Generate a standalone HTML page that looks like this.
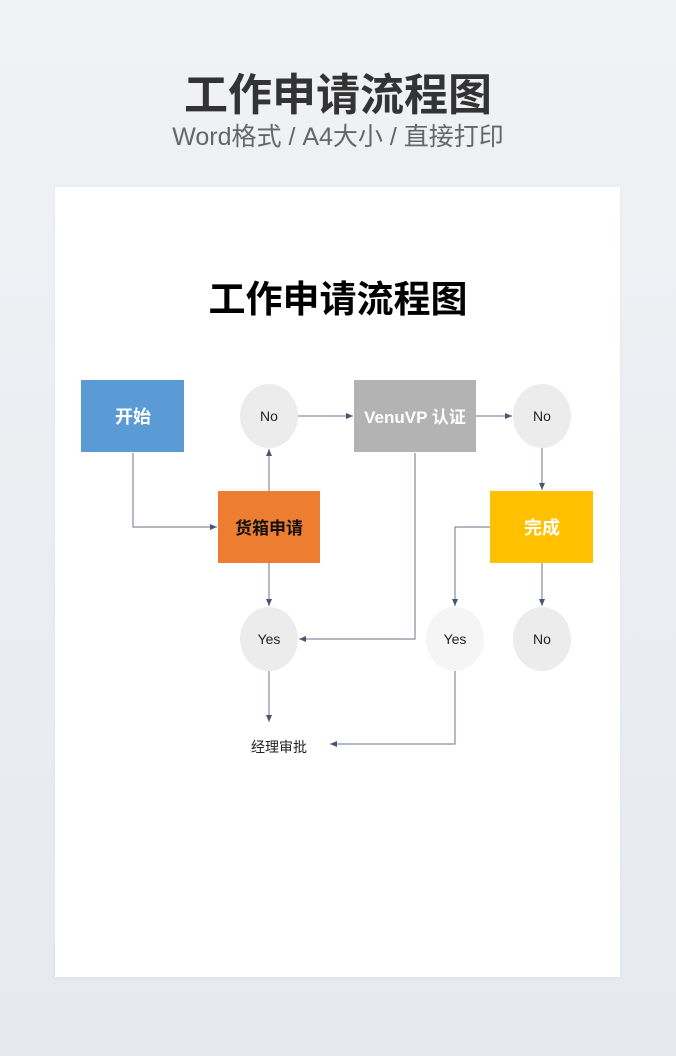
<!DOCTYPE html>
<html><head><meta charset="utf-8"><style>
body{margin:0;width:676px;height:1056px;background:linear-gradient(#f0f2f5,#e6e9ef);font-family:"Liberation Sans","Noto Sans CJK SC",sans-serif;position:relative;overflow:hidden}
.t{position:absolute;left:0;width:676px;text-align:center}
</style></head><body>
<div class="t" style="top:68px;font-size:44px;font-weight:bold;color:#333;line-height:56px">工作申请流程图</div>
<div class="t" style="top:121px;font-size:25px;color:#666;line-height:32px">Word格式 / A4大小 / 直接打印</div>
<div style="position:absolute;left:55px;top:187px;width:565px;height:790px;background:#fff;box-shadow:0 0 4px rgba(0,0,0,0.05)"></div>
<svg width="676" height="1056" style="position:absolute;left:0;top:0" font-family="Liberation Sans, Noto Sans CJK SC, sans-serif">
<defs><marker id="a" markerWidth="8" markerHeight="8" refX="7" refY="4" orient="auto" markerUnits="userSpaceOnUse"><path d="M0,1 L7,4 L0,7z" fill="#4a5570"/></marker></defs>
<text x="338" y="312" text-anchor="middle" font-size="37" font-weight="bold" fill="#000">工作申请流程图</text>
<g stroke="#6a7388" stroke-width="1" fill="none" marker-end="url(#a)">
<path d="M133 453V527H217"/>
<path d="M269 491V449"/>
<path d="M298 416H353"/>
<path d="M476 416H512"/>
<path d="M542 448V490"/>
<path d="M415 453V639H299"/>
<path d="M269 563V606"/>
<path d="M490 527H455V606"/>
<path d="M542 563V606"/>
<path d="M269 671V722"/>
<path d="M455 671V744H330"/>
</g>
<rect x="81" y="380" width="103" height="72" fill="#5b9bd5"/>
<rect x="354" y="380" width="122" height="72" fill="#b3b3b3"/>
<rect x="218" y="491" width="102" height="72" fill="#ed7d31"/>
<rect x="490" y="491" width="103" height="72" fill="#ffc000"/>
<g fill="#ececec"><ellipse cx="269" cy="416" rx="29" ry="32"/><ellipse cx="542" cy="416" rx="29" ry="32"/><ellipse cx="269" cy="639" rx="29" ry="32"/><ellipse cx="542" cy="639" rx="29" ry="32"/></g>
<ellipse cx="455" cy="639" rx="29" ry="32" fill="#f5f5f5"/>
<g font-size="18" font-weight="bold" text-anchor="middle">
<text x="133" y="423" fill="#fff">开始</text>
<text x="415" y="423" fill="#fff" font-size="17">VenuVP 认证</text>
<text x="269" y="534" fill="#111" font-size="17">货箱申请</text>
<text x="542" y="534" fill="#fff">完成</text>
</g>
<g font-size="14" text-anchor="middle" fill="#222">
<text x="269" y="421">No</text><text x="542" y="421">No</text>
<text x="269" y="644">Yes</text><text x="455" y="644">Yes</text><text x="542" y="644">No</text>
<text x="279" y="752">经理审批</text>
</g>
</svg>
</body></html>
